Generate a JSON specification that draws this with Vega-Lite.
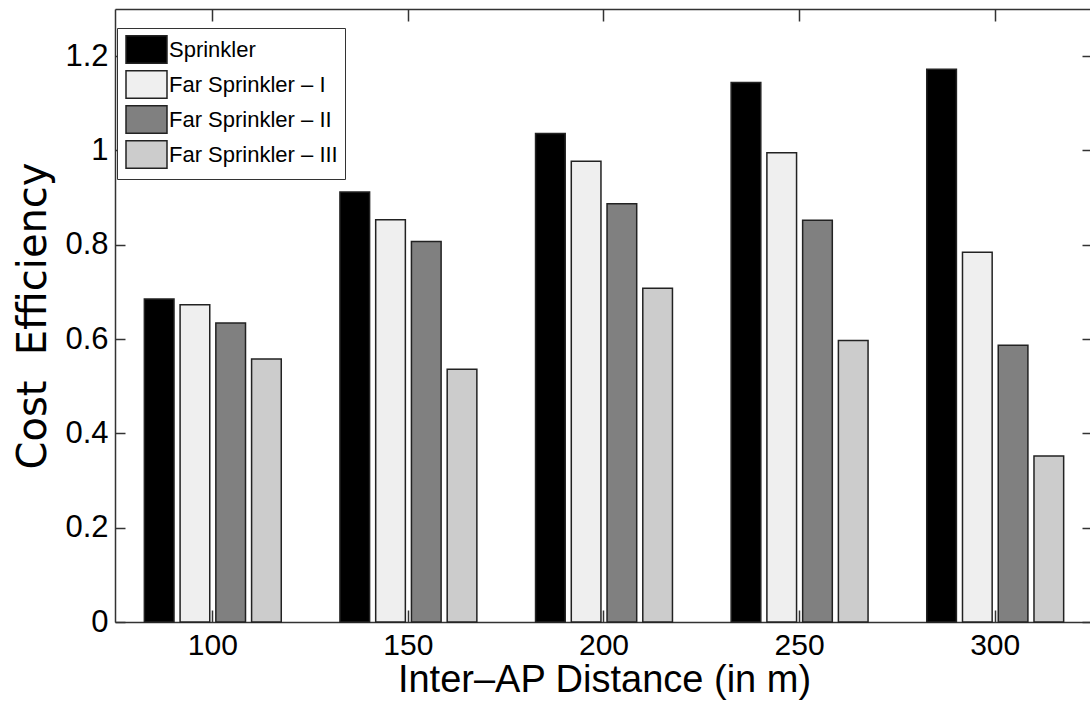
{
  "$schema": "https://vega.github.io/schema/vega-lite/v6.json",
  "width": 975,
  "height": 613,
  "autosize": {"type": "none"},
  "padding": {"left": 115, "top": 9, "right": 0, "bottom": 85},
  "background": "white",
  "config": {
    "view": {"stroke": null},
    "axis": {
      "grid": false,
      "domainColor": "#333",
      "domainWidth": 1.5,
      "tickColor": "#333",
      "tickWidth": 1.5,
      "labelColor": "#000",
      "titleColor": "#000",
      "labelFont": "Liberation Sans, Arial, sans-serif",
      "titleFont": "Liberation Sans, Arial, sans-serif",
      "titleFontWeight": "normal"
    }
  },
  "data": {
    "values": [
      {"distance": "100", "series": "Sprinkler", "value": 0.685},
      {"distance": "100", "series": "Far Sprinkler – I", "value": 0.673},
      {"distance": "100", "series": "Far Sprinkler – II", "value": 0.634},
      {"distance": "100", "series": "Far Sprinkler – III", "value": 0.558},
      {"distance": "150", "series": "Sprinkler", "value": 0.912},
      {"distance": "150", "series": "Far Sprinkler – I", "value": 0.853},
      {"distance": "150", "series": "Far Sprinkler – II", "value": 0.807},
      {"distance": "150", "series": "Far Sprinkler – III", "value": 0.536},
      {"distance": "200", "series": "Sprinkler", "value": 1.036},
      {"distance": "200", "series": "Far Sprinkler – I", "value": 0.977},
      {"distance": "200", "series": "Far Sprinkler – II", "value": 0.887},
      {"distance": "200", "series": "Far Sprinkler – III", "value": 0.708},
      {"distance": "250", "series": "Sprinkler", "value": 1.144},
      {"distance": "250", "series": "Far Sprinkler – I", "value": 0.995},
      {"distance": "250", "series": "Far Sprinkler – II", "value": 0.852},
      {"distance": "250", "series": "Far Sprinkler – III", "value": 0.597},
      {"distance": "300", "series": "Sprinkler", "value": 1.172},
      {"distance": "300", "series": "Far Sprinkler – I", "value": 0.784},
      {"distance": "300", "series": "Far Sprinkler – II", "value": 0.587},
      {"distance": "300", "series": "Far Sprinkler – III", "value": 0.352}
    ]
  },
  "layer": [
    {
      "mark": {"type": "bar", "stroke": "#222", "strokeWidth": 1.5, "opacity": 1},
      "encoding": {
        "x": {
          "field": "distance",
          "type": "ordinal",
          "sort": ["100", "150", "200", "250", "300"],
          "scale": {"type": "band", "paddingInner": 0.3, "paddingOuter": 0.15, "range": [0, 978]},
          "axis": {
            "orient": "bottom",
            "title": "Inter–AP Distance (in m)",
            "titleFontSize": 38,
            "titlePadding": 1,
            "labelFontSize": 30,
            "labelAngle": 0,
            "tickSize": -12,
            "labelPadding": 20,
            "domain": true
          }
        },
        "xOffset": {
          "field": "series",
          "type": "nominal",
          "sort": ["Sprinkler", "Far Sprinkler – I", "Far Sprinkler – II", "Far Sprinkler – III"],
          "scale": {"paddingInner": 0.17, "paddingOuter": 0}
        },
        "y": {
          "field": "value",
          "type": "quantitative",
          "scale": {"domain": [0, 1.3], "nice": false, "zero": true},
          "axis": {
            "orient": "left",
            "title": "Cost\u00a0\u00a0Efficiency",
            "titleFont": "DejaVu Sans",
            "titleFontSize": 40,
            "titlePadding": 11,
            "labelFontSize": 31,
            "values": [0, 0.2, 0.4, 0.6, 0.8, 1, 1.2],
            "format": "~g",
            "tickSize": -10,
            "labelPadding": 17,
            "domain": true
          }
        },
        "fill": {
          "field": "series",
          "type": "nominal",
          "sort": ["Sprinkler", "Far Sprinkler – I", "Far Sprinkler – II", "Far Sprinkler – III"],
          "scale": {
            "domain": ["Sprinkler", "Far Sprinkler – I", "Far Sprinkler – II", "Far Sprinkler – III"],
            "range": ["#000000", "#efefef", "#808080", "#cccccc"]
          },
          "legend": {
            "title": null,
            "orient": "none",
            "legendX": 2,
            "legendY": 19,
            "padding": 7,
            "symbolOffset": 8,
            "strokeColor": "#333",
            "fillColor": "white",
            "symbolType": "M-1.5,-1H1.5V1H-1.5Z",
            "symbolSize": 747,
            "symbolStrokeColor": "#222",
            "symbolStrokeWidth": 1.5,
            "symbolOpacity": 1,
            "labelFont": "Liberation Sans, Arial, sans-serif",
            "labelFontSize": 22,
            "labelColor": "#000",
            "labelOffset": 8,
            "labelLimit": 0,
            "rowPadding": 0
          }
        }
      }
    },
    {
      "mark": {"type": "bar", "opacity": 0},
      "encoding": {
        "x": {
          "field": "distance",
          "type": "ordinal",
          "sort": ["100", "150", "200", "250", "300"],
          "axis": {
            "orient": "top",
            "title": null,
            "labels": false,
            "tickSize": -12,
            "domain": true
          }
        },
        "y": {
          "field": "value",
          "type": "quantitative",
          "axis": {
            "orient": "right",
            "title": null,
            "labels": false,
            "values": [0, 0.2, 0.4, 0.6, 0.8, 1, 1.2],
            "tickSize": -8,
            "domain": false
          }
        }
      }
    }
  ],
  "resolve": {"axis": {"x": "independent", "y": "independent"}}
}
